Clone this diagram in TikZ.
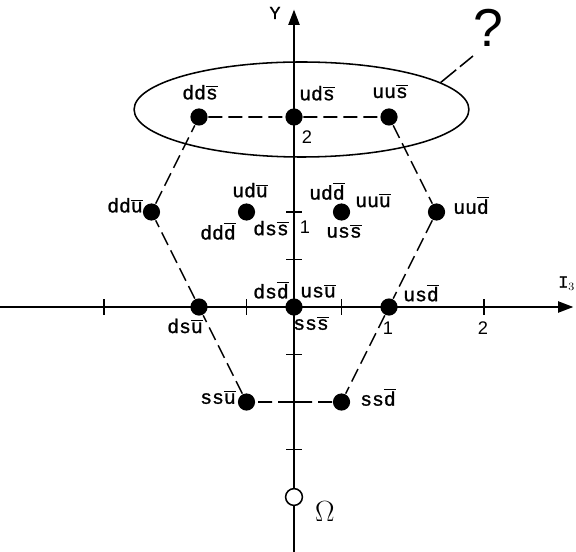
\documentclass[tikz,border=0pt]{standalone}
\usepackage{fontspec}
\setmonofont[FakeBold=1.2]{Liberation Mono}
\newfontfamily\helv{Liberation Sans}
\usetikzlibrary{arrows.meta,shapes.geometric}
\newcommand{\ab}[1]{$\overline{\mbox{#1}}$}

\begin{document}
\begin{tikzpicture}[x=2.375cm,y=2.375cm,line width=1.1pt,
  quark/.style={circle,fill=black,inner sep=0pt,minimum size=0.43cm},
  omg/.style={circle,draw=black,fill=white,inner sep=0pt,minimum size=0.42cm},
  lbl/.style={font=\ttfamily\fontsize{14}{16}\selectfont,inner sep=0pt},
  num/.style={font=\helv\fontsize{13}{15}\selectfont,inner sep=0pt},
  hex/.style={dash pattern=on 0.35cm off 0.15cm},
  >={Triangle[length=0.38cm,width=0.28cm]}]
  \useasboundingbox (-3.0947,-2.5684) rectangle (2.9684,3.2316);

  % axes
  \coordinate (xl) at (-3.1,0);
  \coordinate (xr) at (2.94,0);
  \coordinate (yb) at (0,-2.6);
  \coordinate (yt) at (0,3.13);
  \draw[->] (xl) -- (xr);
  \draw[->] (yb) -- (yt);
  \foreach \t in {-2,-1,-0.5,0.5,1,2}
    \draw (\t,-0.08) -- (\t,0.08);
  \foreach \t in {-1.5,-1,-0.5,0.5,1}
    \draw (-0.08,\t) -- (0.08,\t);

  % the ring and its question mark
  \node[draw,ellipse,inner sep=0pt,minimum width=8.37cm,minimum height=2.375cm] (ring) at (0.079,2.079) {};
  \coordinate (qtip) at (1.884,2.642);
  \draw[dash pattern=on 0.5cm off 0.12cm] (ring.11) -- (qtip);
  \node[font=\helv\fontsize{38}{40}\selectfont,inner sep=0pt] (qmark) at (2.042,2.937) {?};

  % states
  \node[quark] (dds) at (-1,2) {};
  \node[quark] (uds) at (0,2) {};
  \node[quark] (uus) at (1,2) {};
  \node[quark] (ddu) at (-1.5,1) {};
  \node[quark] (udu) at (-0.5,1) {};
  \node[quark] (uuu) at (0.5,1) {};
  \node[quark] (uud) at (1.5,1) {};
  \node[quark] (dsu) at (-1,0) {};
  \node[quark] (dsd) at (0,0) {};
  \node[quark] (usd) at (1,0) {};
  \node[quark] (ssu) at (-0.5,-1) {};
  \node[quark] (ssd) at (0.5,-1) {};
  \node[omg] (om) at (0,-2) {};

  \draw[hex] (dds) -- (uds) -- (uus) -- (uud) -- (usd) -- (ssd) -- (ssu) -- (dsu) -- (ddu) -- (dds);

  % labels
  \node[lbl] at (-0.989,2.26) {dd\ab{s}};
  \node[lbl] at (0.242,2.25) {ud\ab{s}};
  \node[lbl] at (1.011,2.27) {uu\ab{s}};
  \node[lbl] at (-1.779,1.07) {dd\ab{u}};
  \node[lbl] at (-0.463,1.23) {ud\ab{u}};
  \node[lbl] at (-0.8,0.8) {dd\ab{d}};
  \node[lbl] at (-0.242,0.83) {ds\ab{s}};
  \node[lbl] at (0.347,1.22) {ud\ab{d}};
  \node[lbl] at (0.832,1.12) {uu\ab{u}};
  \node[lbl] at (0.526,0.8) {us\ab{s}};
  \node[lbl] at (1.863,1.07) {uu\ab{d}};
  \node[lbl] at (-0.242,0.18) {ds\ab{d}};
  \node[lbl] at (0.253,0.17) {us\ab{u}};
  \node[lbl] at (0.179,-0.17) {ss\ab{s}};
  \node[lbl] at (-1.147,-0.2) {ds\ab{u}};
  \node[lbl] at (1.337,0.15) {us\ab{d}};
  \node[lbl] at (-0.8,-0.95) {ss\ab{u}};
  \node[lbl] at (0.884,-0.95) {ss\ab{d}};

  \node[num] at (0.137,1.789) {2};
  \node[num] at (0.116,0.842) {1};
  \node[num] at (0.989,-0.221) {1};
  \node[num] at (1.989,-0.221) {2};

  \node[font=\ttfamily\fontsize{13}{15}\selectfont,inner sep=0pt] at (-0.2,3.095) {Y};
  \node[font=\ttfamily\fontsize{12}{14}\selectfont,inner sep=0pt] at (2.87,0.25) {I$_3$};
  \node[inner sep=0pt] at (0.326,-2.158) {\fontsize{21}{25}\selectfont$\Omega$};
\end{tikzpicture}
\end{document}
